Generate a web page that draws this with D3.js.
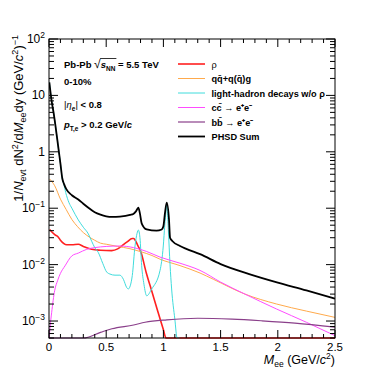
<!DOCTYPE html>
<html>
<head>
<meta charset="utf-8">
<script src="https://cdn.jsdelivr.net/npm/d3@7"></script>
<style>
  body { margin: 0; background: #fff; }
  text { font-family: "Liberation Sans", Arial, sans-serif; }
</style>
</head>
<body>
<div id="chart"></div>
<script>
// values, M_ee in GeV/c^2
var rhoM   = [0.005, 0.05, 0.08, 0.1, 0.155, 0.2, 0.256, 0.3, 0.373, 0.45, 0.548, 0.6, 0.636, 0.68, 0.728, 0.74, 0.758, 0.78, 0.8, 0.85, 0.9, 0.95, 1.0, 1.023, 1.05, 1.2, 1.6, 2.0, 2.5];
var rhoY   = [0.042, 0.034, 0.031, 0.027, 0.0225, 0.0225, 0.023, 0.021, 0.0187, 0.018, 0.0177, 0.019, 0.0214, 0.025, 0.029, 0.029, 0.026, 0.021, 0.0175, 0.0072, 0.0033, 0.0015, 0.0007, 0.0005, 0.0003, 0.0001, 0.00005, 0.00003, 0.00001];

var qqM    = [0.005, 0.05, 0.1, 0.15, 0.2, 0.25, 0.3, 0.35, 0.4, 0.45, 0.5, 0.6, 0.7, 0.8, 0.9, 0.97, 1.145, 1.32, 1.436, 1.713, 1.99, 2.25, 2.5];
var qqY    = [0.33, 0.25, 0.145, 0.095, 0.063, 0.047, 0.037, 0.031, 0.027, 0.024, 0.023, 0.021, 0.0193, 0.017, 0.0145, 0.0125, 0.0096, 0.0071, 0.0055, 0.003, 0.002, 0.0015, 0.00116];

var lhM    = [0.003, 0.02, 0.044, 0.087, 0.1, 0.116, 0.131, 0.146, 0.175, 0.2, 0.256, 0.3, 0.344, 0.373, 0.4, 0.431, 0.47, 0.504, 0.533, 0.577, 0.62, 0.65, 0.68, 0.693, 0.71, 0.728, 0.752, 0.77, 0.781, 0.795, 0.81, 0.83, 0.854, 0.898, 0.97, 0.999, 1.012, 1.023, 1.029, 1.043, 1.058, 1.072, 1.1, 1.12, 1.14];
var lhY    = [17, 8.8, 4.4, 0.98, 0.62, 0.33, 0.26, 0.19, 0.125, 0.1, 0.062, 0.046, 0.035, 0.026, 0.02, 0.0164, 0.0105, 0.0074, 0.0068, 0.0065, 0.0065, 0.0055, 0.0039, 0.0037, 0.0042, 0.0064, 0.0214, 0.036, 0.041, 0.03, 0.0096, 0.0045, 0.0028, 0.0037, 0.0078, 0.0214, 0.05, 0.09, 0.117, 0.042, 0.01, 0.0037, 0.00108, 0.0005, 0.0002];

var ccM    = [0.002, 0.01, 0.023, 0.05, 0.075, 0.1, 0.14, 0.2, 0.256, 0.33, 0.4, 0.5, 0.62, 0.74, 0.85, 0.97, 1.145, 1.32, 1.5, 1.713, 1.99, 2.25, 2.5];
var ccY    = [0.0003, 0.0008, 0.0014, 0.0035, 0.0052, 0.007, 0.0095, 0.0143, 0.016, 0.0187, 0.02, 0.021, 0.0214, 0.02, 0.0172, 0.0136, 0.0106, 0.0079, 0.0049, 0.003, 0.00163, 0.00095, 0.00055];

var bbM    = [0.0, 0.15, 0.3, 0.45, 0.55, 0.74, 0.84, 1.03, 1.3, 1.6, 1.86, 2.15, 2.5];
var bbY    = [0.0002, 0.00035, 0.0005, 0.00063, 0.00073, 0.00085, 0.00095, 0.00105, 0.00112, 0.00108, 0.00101, 0.00092, 0.00078];

var sumM   = [0.003, 0.02, 0.044, 0.087, 0.1, 0.116, 0.131, 0.15, 0.2, 0.256, 0.3, 0.35, 0.4, 0.45, 0.5, 0.55, 0.62, 0.708, 0.74, 0.76, 0.781, 0.795, 0.81, 0.854, 0.94, 0.985, 1.0, 1.014, 1.029, 1.049, 1.058, 1.08, 1.145, 1.2, 1.32, 1.5, 1.75, 2.0, 2.25, 2.5];
var sumY   = [17, 8.8, 4.4, 0.98, 0.62, 0.34, 0.27, 0.22, 0.17, 0.143, 0.12, 0.1, 0.085, 0.077, 0.072, 0.07, 0.071, 0.076, 0.08, 0.088, 0.102, 0.08, 0.054, 0.042, 0.04, 0.042, 0.048, 0.083, 0.126, 0.063, 0.03, 0.026, 0.0214, 0.019, 0.0153, 0.0102, 0.0068, 0.0048, 0.0035, 0.0025];

var seriesNames  = ["\u03c1", "qq\u0304+q(q\u0304)g", "light-hadron decays w/o \u03c1", "cc\u0304  \u2192 e\u207ae\u207b", "bb\u0304  \u2192 e\u207ae\u207b", "PHSD Sum"];
var seriesColors = ["#ff2020", "#ffaa4c", "#3fdcdc", "#ff4cff", "#8a3f8a", "#000000"];
var seriesWidth  = [1.6, 1, 1, 1, 1.2, 1.8];

var xTicks = [0, 0.5, 1, 1.5, 2, 2.5];
var yTicks = [1e-3, 1e-2, 1e-1, 1, 10, 100];
var yTickLabels = [["10", "\u22123"], ["10", "\u22122"], ["10", "\u22121"], ["1", ""], ["10", ""], ["10", "2"]];

function drawDielectron(placement, w, h) {
    var margins = {top: 39, right: 39, bottom: 39, left: 49};
    var width = w, height = h;
    var ymin = 5e-4, ymax = 100;

    var svg = d3.select(placement).append("svg")
        .attr("width", width).attr("height", height)
        .attr("viewBox", [0, 0, width, height]);

    var x = d3.scaleLinear()
        .domain([0, 2.5])
        .range([margins.left, width - margins.right]);

    var y = d3.scaleLog()
        .domain([ymin, ymax])
        .range([height - margins.bottom, margins.top]);

    var series = [
        {name: seriesNames[0], m: rhoM, v: rhoY},
        {name: seriesNames[1], m: qqM, v: qqY},
        {name: seriesNames[2], m: lhM, v: lhY},
        {name: seriesNames[3], m: ccM, v: ccY},
        {name: seriesNames[4], m: bbM, v: bbY},
        {name: seriesNames[5], m: sumM, v: sumY}
    ];
    series.forEach(function(s, i) {
        s.color = seriesColors[i];
        s.width = seriesWidth[i];
        s.values = s.m.map(function(d, j) { return {m: d, v: s.v[j]}; });
    });

    // values under the frame are drawn along the bottom edge, like ROOT does
    var line = d3.line()
        .curve(d3.curveMonotoneX)
        .x(function(d) { return x(d.m); })
        .y(function(d) { return y(Math.max(ymin, Math.min(ymax, d.v))); });

    svg.append("defs").append("clipPath").attr("id", "frame")
        .append("rect")
        .attr("x", margins.left).attr("y", margins.top - 1)
        .attr("width", width - margins.left - margins.right)
        .attr("height", height - margins.top - margins.bottom + 2);

    svg.append("g").attr("clip-path", "url(#frame)")
        .selectAll("path")
        .data(series)
        .enter().append("path")
        .attr("d", function(d) { return line(d.values); })
        .attr("fill", "none")
        .attr("stroke", function(d) { return d.color; })
        .attr("stroke-width", function(d) { return d.width; })
        .attr("stroke-linejoin", "round");

    // frame + ticks on all four sides, pointing inwards
    var x0 = margins.left, x1 = width - margins.right;
    var y0 = height - margins.bottom, y1 = margins.top;

    var xMinor = d3.range(0, 26).map(function(i) { return i / 10; });
    var ticksG = svg.append("g").attr("stroke", "#000").attr("stroke-width", 1);
    xMinor.forEach(function(t, i) {
        var len = (i % 5 == 0) ? 8 : 4;
        ticksG.append("line").attr("x1", x(t)).attr("x2", x(t)).attr("y1", y0).attr("y2", y0 - len);
        ticksG.append("line").attr("x1", x(t)).attr("x2", x(t)).attr("y1", y1).attr("y2", y1 + len);
    });

    var yMinor = [];
    [1e-4, 1e-3, 1e-2, 1e-1, 1, 10].forEach(function(dec) {
        for (var k = 1; k < 10; k++) {
            var v = dec * k;
            if (v >= ymin && v <= ymax) yMinor.push({v: v, major: k == 1});
        }
    });
    yMinor.push({v: 100, major: true});
    yMinor.forEach(function(t) {
        var len = t.major ? 9 : 5;
        ticksG.append("line").attr("x1", x0).attr("x2", x0 + len).attr("y1", y(t.v)).attr("y2", y(t.v));
        ticksG.append("line").attr("x1", x1).attr("x2", x1 - len).attr("y1", y(t.v)).attr("y2", y(t.v));
    });

    svg.append("rect")
        .attr("x", x0).attr("y", y1)
        .attr("width", x1 - x0).attr("height", y0 - y1)
        .attr("fill", "none").attr("stroke", "#000").attr("stroke-width", 1);

    // tick labels
    svg.append("g").selectAll("text")
        .data(xTicks)
        .enter().append("text")
        .attr("x", function(d) { return x(d); })
        .attr("y", y0 + 12.5)
        .attr("text-anchor", "middle")
        .attr("font-size", "11.5px")
        .text(function(d) { return d; });

    var yl = svg.append("g").selectAll("text")
        .data(yTicks)
        .enter().append("text")
        .attr("x", x0 - 4)
        .attr("y", function(d) { return y(d) + 4; })
        .attr("text-anchor", "end")
        .attr("font-size", "12px");
    yl.append("tspan").text(function(d, i) { return yTickLabels[i][0]; });
    yl.append("tspan").attr("dy", -5).attr("font-size", "8.5px")
        .text(function(d, i) { return yTickLabels[i][1]; });

    // axis titles
    var xt = svg.append("text")
        .attr("x", x1).attr("y", y0 + 26)
        .attr("text-anchor", "end")
        .attr("font-size", "12.5px");
    xt.append("tspan").attr("font-style", "italic").text("M");
    xt.append("tspan").attr("dy", 3).attr("font-size", "8.5px").text("ee");
    xt.append("tspan").attr("dy", -3).text(" (GeV/");
    xt.append("tspan").attr("font-style", "italic").text("c");
    xt.append("tspan").attr("dy", -5).attr("font-size", "8.5px").text("2");
    xt.append("tspan").attr("dy", 5).text(")");

    var yt = svg.append("text")
        .attr("transform", "translate(23," + (y1 - 4) + ") rotate(-90)")
        .attr("text-anchor", "end")
        .attr("font-size", "13px");
    yt.append("tspan").text("1/");
    yt.append("tspan").attr("font-style", "italic").text("N");
    yt.append("tspan").attr("dy", 3).attr("font-size", "9px").text("evt");
    yt.append("tspan").attr("dy", -3).text(" dN");
    yt.append("tspan").attr("dy", -5).attr("font-size", "9px").text("2");
    yt.append("tspan").attr("dy", 5).text("/d");
    yt.append("tspan").attr("font-style", "italic").text("M");
    yt.append("tspan").attr("dy", 3).attr("font-size", "9px").text("ee");
    yt.append("tspan").attr("dy", -3).text("dy (GeV/");
    yt.append("tspan").attr("font-style", "italic").text("c");
    yt.append("tspan").attr("dy", -5).attr("font-size", "9px").text("2");
    yt.append("tspan").attr("dy", 5).text(")");
    yt.append("tspan").attr("dy", -5).attr("font-size", "9px").text("\u22121");

    // collision system labels
    var info = svg.append("g").attr("font-size", "9.5px").attr("font-weight", "bold");
    var sys = info.append("text").attr("x", 64).attr("y", 68);
    sys.append("tspan").text("Pb-Pb ");
    sys.append("tspan").attr("font-weight", "normal").attr("font-size", "12px").text("\u221a");
    sys.append("tspan").attr("font-style", "italic").text("s");
    sys.append("tspan").attr("dy", 2.5).attr("font-size", "6.5px").text("NN");
    sys.append("tspan").attr("dy", -2.5).text(" = 5.5 TeV");
    // overline of the square root
    var sysNode = sys.node();
    var startOver = sysNode.getStartPositionOfChar(6).x + 6;
    var endOver = sysNode.getEndPositionOfChar(9).x + 1;
    info.append("line")
        .attr("x1", startOver).attr("x2", endOver)
        .attr("y1", 58.5).attr("y2", 58.5)
        .attr("stroke", "#000").attr("stroke-width", 0.8);

    info.append("text").attr("x", 64).attr("y", 85).text("0-10%");

    var eta = info.append("text").attr("x", 64).attr("y", 108);
    eta.append("tspan").attr("font-weight", "normal").text("|");
    eta.append("tspan").attr("font-weight", "normal").attr("font-style", "italic").text("\u03b7");
    eta.append("tspan").attr("dy", 2.5).attr("font-size", "6.5px").text("e");
    eta.append("tspan").attr("dy", -2.5).attr("font-weight", "normal").text("|");
    eta.append("tspan").text(" < 0.8");

    var pt = info.append("text").attr("x", 64).attr("y", 128);
    pt.append("tspan").attr("font-style", "italic").text("p");
    pt.append("tspan").attr("dy", 2.5).attr("font-size", "6.5px").text("T,e");
    pt.append("tspan").attr("dy", -2.5).text(" > 0.2 GeV/");
    pt.append("tspan").attr("font-style", "italic").text("c");

    // legend
    var legend = svg.selectAll(".legend")
        .data(series)
        .enter().append("g")
        .attr("class", "legend")
        .attr("transform", function(d, i) { return "translate(0," + (64 + i * 14.5) + ")"; });

    legend.append("line")
        .attr("x1", 178).attr("x2", 205)
        .attr("y1", 0).attr("y2", 0)
        .attr("stroke", function(d) { return d.color; })
        .attr("stroke-width", function(d) { return d.width; });

    legend.append("text")
        .attr("x", 211.5)
        .attr("y", 3.5)
        .attr("font-size", "9.2px")
        .attr("font-weight", function(d, i) { return i == 0 ? "normal" : "bold"; })
        .text(function(d) { return d.name; });
}

drawDielectron("#chart", 374, 377);
</script>
</body>
</html>
